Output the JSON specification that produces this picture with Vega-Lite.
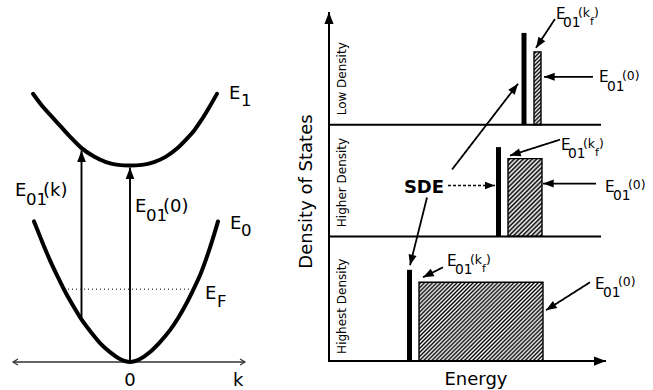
{
 "$schema": "https://vega.github.io/schema/vega-lite/v6.json",
 "width": 653, "height": 390,
 "autosize": {"type": "fit", "contains": "padding"},
 "padding": 0,
 "background": "white",
 "config": {"view": {"stroke": null}},
 "resolve": {"scale": {"size": "independent", "strokeWidth": "independent", "strokeDash": "independent", "color": "independent"}},
 "datasets": {
  "curves": [
   {"c":"E0","x":34,"y":222},{"c":"E0","x":42,"y":242},{"c":"E0","x":50,"y":261},{"c":"E0","x":58,"y":278},{"c":"E0","x":66,"y":294},{"c":"E0","x":74,"y":308},{"c":"E0","x":82,"y":321},{"c":"E0","x":91,"y":333},{"c":"E0","x":100,"y":344},{"c":"E0","x":110,"y":353},{"c":"E0","x":120,"y":360},{"c":"E0","x":130,"y":363},{"c":"E0","x":140,"y":360},{"c":"E0","x":150,"y":353},{"c":"E0","x":160,"y":343},{"c":"E0","x":170,"y":331},{"c":"E0","x":178,"y":319},{"c":"E0","x":186,"y":305},{"c":"E0","x":193,"y":291},{"c":"E0","x":200,"y":276},{"c":"E0","x":206,"y":260},{"c":"E0","x":212,"y":242},{"c":"E0","x":218,"y":222},
   {"c":"E1","x":33,"y":94},{"c":"E1","x":42,"y":106},{"c":"E1","x":50,"y":115},{"c":"E1","x":60,"y":126},{"c":"E1","x":70,"y":137},{"c":"E1","x":81,"y":148},{"c":"E1","x":94,"y":157},{"c":"E1","x":106,"y":162.5},{"c":"E1","x":118,"y":165.3},{"c":"E1","x":130,"y":166},{"c":"E1","x":142,"y":165.3},{"c":"E1","x":154,"y":162.5},{"c":"E1","x":166,"y":157},{"c":"E1","x":177,"y":149},{"c":"E1","x":186,"y":140},{"c":"E1","x":194,"y":131},{"c":"E1","x":201,"y":121},{"c":"E1","x":209,"y":108},{"c":"E1","x":217,"y":94}
  ],
  "bars": [
   {"panel":"low","sde":524,"sdeTop":33,"base":125,"x0":534,"x1":541,"top":52},
   {"panel":"higher","sde":498.5,"sdeTop":147.5,"base":237,"x0":508,"x1":542,"top":159},
   {"panel":"highest","sde":409.5,"sdeTop":270.5,"base":362,"x0":419,"x1":543,"top":283}
  ],
  "segs": [
   {"x":130,"y":363,"x2":13,"y2":363,"kind":"thin","head":"open"},
   {"x":130,"y":363,"x2":245,"y2":363,"kind":"thin","head":"open"},
   {"x":81.5,"y":322,"x2":81.5,"y2":151,"kind":"big","head":"filled"},
   {"x":130,"y":363,"x2":130,"y2":168,"kind":"big","head":"filled"},
   {"x":64,"y":290,"x2":196,"y2":290,"kind":"dotted","head":"none"},
   {"x":329,"y":363,"x2":329,"y2":12,"kind":"axis","head":"filled"},
   {"x":328,"y":362,"x2":606,"y2":362,"kind":"axis","head":"filled"},
   {"x":329,"y":125,"x2":601,"y2":125,"kind":"axis","head":"none"},
   {"x":329,"y":237,"x2":601,"y2":237,"kind":"axis","head":"none"},
   {"x":452,"y":170,"x2":518,"y2":84,"kind":"small","head":"filled"},
   {"x":427,"y":198,"x2":410,"y2":266,"kind":"small","head":"filled"},
   {"x":448,"y":186,"x2":495,"y2":186,"kind":"dashed","head":"filled"},
   {"x":555,"y":19,"x2":536,"y2":48,"kind":"small","head":"filled"},
   {"x":593,"y":77,"x2":544,"y2":77,"kind":"small","head":"filled"},
   {"x":560,"y":140,"x2":510,"y2":156,"kind":"small","head":"filled"},
   {"x":596,"y":184,"x2":543,"y2":184,"kind":"small","head":"filled"},
   {"x":443,"y":268,"x2":423,"y2":278,"kind":"small","head":"filled"},
   {"x":590,"y":283,"x2":546,"y2":311,"kind":"small","head":"filled"}
  ],
  "labels": [
   {"g":"a","s":"L","t":"E","x":15,"y":197},
   {"g":"a","s":"Ls","t":"01","x":26,"y":206},
   {"g":"a","s":"L","t":"(k)","x":43,"y":197},
   {"g":"a","s":"L","t":"E","x":135,"y":213},
   {"g":"a","s":"Ls","t":"01","x":146,"y":222},
   {"g":"a","s":"L","t":"(0)","x":163,"y":213},
   {"g":"a","s":"L","t":"E","x":229,"y":99},
   {"g":"a","s":"Ls","t":"1","x":241,"y":106},
   {"g":"a","s":"L","t":"E","x":230,"y":230},
   {"g":"a","s":"Ls","t":"0","x":241,"y":237},
   {"g":"a","s":"L","t":"E","x":205,"y":300},
   {"g":"a","s":"Ls","t":"F","x":217,"y":308},
   {"g":"a","s":"L","t":"k","x":233,"y":387},
   {"g":"a","s":"R","t":"E","x":556,"y":19},
   {"g":"a","s":"Rs","t":"01","x":563,"y":27},
   {"g":"a","s":"Rp","t":"(k","x":578,"y":17},
   {"g":"a","s":"Rf","t":"f","x":590,"y":25},
   {"g":"a","s":"Rp","t":")","x":594,"y":17},
   {"g":"a","s":"R","t":"E","x":599,"y":82},
   {"g":"a","s":"Rs","t":"01","x":607,"y":91},
   {"g":"a","s":"Rp","t":"(0)","x":622,"y":80},
   {"g":"a","s":"R","t":"E","x":561,"y":150},
   {"g":"a","s":"Rs","t":"01","x":568,"y":158},
   {"g":"a","s":"Rp","t":"(k","x":583,"y":148},
   {"g":"a","s":"Rf","t":"f","x":595,"y":156},
   {"g":"a","s":"Rp","t":")","x":599,"y":148},
   {"g":"a","s":"R","t":"E","x":605,"y":192},
   {"g":"a","s":"Rs","t":"01","x":613,"y":201},
   {"g":"a","s":"Rp","t":"(0)","x":628,"y":189},
   {"g":"a","s":"R","t":"E","x":447,"y":267},
   {"g":"a","s":"Rs","t":"01","x":455,"y":275},
   {"g":"a","s":"Rp","t":"(k","x":470,"y":265},
   {"g":"a","s":"Rf","t":"f","x":482,"y":273},
   {"g":"a","s":"Rp","t":")","x":486,"y":265},
   {"g":"a","s":"R","t":"E","x":595,"y":290},
   {"g":"a","s":"Rs","t":"01","x":603,"y":298},
   {"g":"a","s":"Rp","t":"(0)","x":618,"y":287},
   {"g":"c","s":"L","t":"0","x":130,"y":387},
   {"g":"c","s":"L","t":"Energy","x":476,"y":386},
   {"g":"b","s":"L","t":"SDE","x":424,"y":193},
   {"g":"r","s":"T","t":"Density of States","x":307,"y":192},
   {"g":"r","s":"D","t":"Low Density","x":342,"y":79},
   {"g":"r","s":"D","t":"Higher Density","x":342,"y":183},
   {"g":"r","s":"D","t":"Highest Density","x":342,"y":307}
  ]
 },
 "layer": [
  {
   "data": {"name": "bars"},
   "transform": [{"filter": "datum.panel === 'low'"}],
   "mark": {"type": "rect", "stroke": "#000", "strokeWidth": 1.4,
    "fill": {"gradient": "linear", "x1": 0, "y1": 0, "x2": 0.104, "y2": 1.086, "stops": [
     {"offset":0,"color":"#fff"},{"offset":0.025,"color":"#000"},{"offset":0.05,"color":"#fff"},{"offset":0.075,"color":"#000"},{"offset":0.1,"color":"#fff"},{"offset":0.125,"color":"#000"},{"offset":0.15,"color":"#fff"},{"offset":0.175,"color":"#000"},{"offset":0.2,"color":"#fff"},{"offset":0.225,"color":"#000"},{"offset":0.25,"color":"#fff"},{"offset":0.275,"color":"#000"},{"offset":0.3,"color":"#fff"},{"offset":0.325,"color":"#000"},{"offset":0.35,"color":"#fff"},{"offset":0.375,"color":"#000"},{"offset":0.4,"color":"#fff"},{"offset":0.425,"color":"#000"},{"offset":0.45,"color":"#fff"},{"offset":0.475,"color":"#000"},{"offset":0.5,"color":"#fff"},{"offset":0.525,"color":"#000"},{"offset":0.55,"color":"#fff"},{"offset":0.575,"color":"#000"},{"offset":0.6,"color":"#fff"},{"offset":0.625,"color":"#000"},{"offset":0.65,"color":"#fff"},{"offset":0.675,"color":"#000"},{"offset":0.7,"color":"#fff"},{"offset":0.725,"color":"#000"},{"offset":0.75,"color":"#fff"},{"offset":0.775,"color":"#000"},{"offset":0.8,"color":"#fff"},{"offset":0.825,"color":"#000"},{"offset":0.85,"color":"#fff"},{"offset":0.875,"color":"#000"},{"offset":0.9,"color":"#fff"},{"offset":0.925,"color":"#000"},{"offset":0.95,"color":"#fff"},{"offset":0.975,"color":"#000"},{"offset":1,"color":"#fff"}
    ]}},
   "encoding": {
    "x": {"field": "x0", "type": "quantitative", "scale": {"domain": [0, 653], "nice": false}, "axis": null},
    "x2": {"field": "x1"},
    "y": {"field": "top", "type": "quantitative", "scale": {"domain": [0, 390], "nice": false, "reverse": true}, "axis": null},
    "y2": {"field": "base"}
   }
  },
  {
   "data": {"name": "bars"},
   "transform": [{"filter": "datum.panel === 'higher'"}],
   "mark": {"type": "rect", "stroke": "#000", "strokeWidth": 1.4,
    "fill": {"gradient": "linear", "x1": 0, "y1": 0, "x2": 0.526, "y2": 1.207, "stops": [
     {"offset":0,"color":"#fff"},{"offset":0.02,"color":"#000"},{"offset":0.04,"color":"#fff"},{"offset":0.06,"color":"#000"},{"offset":0.08,"color":"#fff"},{"offset":0.1,"color":"#000"},{"offset":0.12,"color":"#fff"},{"offset":0.14,"color":"#000"},{"offset":0.16,"color":"#fff"},{"offset":0.18,"color":"#000"},{"offset":0.2,"color":"#fff"},{"offset":0.22,"color":"#000"},{"offset":0.24,"color":"#fff"},{"offset":0.26,"color":"#000"},{"offset":0.28,"color":"#fff"},{"offset":0.3,"color":"#000"},{"offset":0.32,"color":"#fff"},{"offset":0.34,"color":"#000"},{"offset":0.36,"color":"#fff"},{"offset":0.38,"color":"#000"},{"offset":0.4,"color":"#fff"},{"offset":0.42,"color":"#000"},{"offset":0.44,"color":"#fff"},{"offset":0.46,"color":"#000"},{"offset":0.48,"color":"#fff"},{"offset":0.5,"color":"#000"},{"offset":0.52,"color":"#fff"},{"offset":0.54,"color":"#000"},{"offset":0.56,"color":"#fff"},{"offset":0.58,"color":"#000"},{"offset":0.6,"color":"#fff"},{"offset":0.62,"color":"#000"},{"offset":0.64,"color":"#fff"},{"offset":0.66,"color":"#000"},{"offset":0.68,"color":"#fff"},{"offset":0.7,"color":"#000"},{"offset":0.72,"color":"#fff"},{"offset":0.74,"color":"#000"},{"offset":0.76,"color":"#fff"},{"offset":0.78,"color":"#000"},{"offset":0.8,"color":"#fff"},{"offset":0.82,"color":"#000"},{"offset":0.84,"color":"#fff"},{"offset":0.86,"color":"#000"},{"offset":0.88,"color":"#fff"},{"offset":0.9,"color":"#000"},{"offset":0.92,"color":"#fff"},{"offset":0.94,"color":"#000"},{"offset":0.96,"color":"#fff"},{"offset":0.98,"color":"#000"},{"offset":1,"color":"#fff"}
    ]}},
   "encoding": {
    "x": {"field": "x0", "type": "quantitative", "scale": {"domain": [0, 653], "nice": false}, "axis": null},
    "x2": {"field": "x1"},
    "y": {"field": "top", "type": "quantitative", "scale": {"domain": [0, 390], "nice": false, "reverse": true}, "axis": null},
    "y2": {"field": "base"}
   }
  },
  {
   "data": {"name": "bars"},
   "transform": [{"filter": "datum.panel === 'highest'"}],
   "mark": {"type": "rect", "stroke": "#000", "strokeWidth": 1.4,
    "fill": {"gradient": "linear", "x1": 0, "y1": 0, "x2": 1.164, "y2": 0.742, "stops": [
     {"offset":0,"color":"#fff"},{"offset":0.01,"color":"#000"},{"offset":0.02,"color":"#fff"},{"offset":0.03,"color":"#000"},{"offset":0.04,"color":"#fff"},{"offset":0.05,"color":"#000"},{"offset":0.06,"color":"#fff"},{"offset":0.07,"color":"#000"},{"offset":0.08,"color":"#fff"},{"offset":0.09,"color":"#000"},{"offset":0.1,"color":"#fff"},{"offset":0.11,"color":"#000"},{"offset":0.12,"color":"#fff"},{"offset":0.13,"color":"#000"},{"offset":0.14,"color":"#fff"},{"offset":0.15,"color":"#000"},{"offset":0.16,"color":"#fff"},{"offset":0.17,"color":"#000"},{"offset":0.18,"color":"#fff"},{"offset":0.19,"color":"#000"},{"offset":0.2,"color":"#fff"},{"offset":0.21,"color":"#000"},{"offset":0.22,"color":"#fff"},{"offset":0.23,"color":"#000"},{"offset":0.24,"color":"#fff"},{"offset":0.25,"color":"#000"},{"offset":0.26,"color":"#fff"},{"offset":0.27,"color":"#000"},{"offset":0.28,"color":"#fff"},{"offset":0.29,"color":"#000"},{"offset":0.3,"color":"#fff"},{"offset":0.31,"color":"#000"},{"offset":0.32,"color":"#fff"},{"offset":0.33,"color":"#000"},{"offset":0.34,"color":"#fff"},{"offset":0.35,"color":"#000"},{"offset":0.36,"color":"#fff"},{"offset":0.37,"color":"#000"},{"offset":0.38,"color":"#fff"},{"offset":0.39,"color":"#000"},{"offset":0.4,"color":"#fff"},{"offset":0.41,"color":"#000"},{"offset":0.42,"color":"#fff"},{"offset":0.43,"color":"#000"},{"offset":0.44,"color":"#fff"},{"offset":0.45,"color":"#000"},{"offset":0.46,"color":"#fff"},{"offset":0.47,"color":"#000"},{"offset":0.48,"color":"#fff"},{"offset":0.49,"color":"#000"},{"offset":0.5,"color":"#fff"},{"offset":0.51,"color":"#000"},{"offset":0.52,"color":"#fff"},{"offset":0.53,"color":"#000"},{"offset":0.54,"color":"#fff"},{"offset":0.55,"color":"#000"},{"offset":0.56,"color":"#fff"},{"offset":0.57,"color":"#000"},{"offset":0.58,"color":"#fff"},{"offset":0.59,"color":"#000"},{"offset":0.6,"color":"#fff"},{"offset":0.61,"color":"#000"},{"offset":0.62,"color":"#fff"},{"offset":0.63,"color":"#000"},{"offset":0.64,"color":"#fff"},{"offset":0.65,"color":"#000"},{"offset":0.66,"color":"#fff"},{"offset":0.67,"color":"#000"},{"offset":0.68,"color":"#fff"},{"offset":0.69,"color":"#000"},{"offset":0.7,"color":"#fff"},{"offset":0.71,"color":"#000"},{"offset":0.72,"color":"#fff"},{"offset":0.73,"color":"#000"},{"offset":0.74,"color":"#fff"},{"offset":0.75,"color":"#000"},{"offset":0.76,"color":"#fff"},{"offset":0.77,"color":"#000"},{"offset":0.78,"color":"#fff"},{"offset":0.79,"color":"#000"},{"offset":0.8,"color":"#fff"},{"offset":0.81,"color":"#000"},{"offset":0.82,"color":"#fff"},{"offset":0.83,"color":"#000"},{"offset":0.84,"color":"#fff"},{"offset":0.85,"color":"#000"},{"offset":0.86,"color":"#fff"},{"offset":0.87,"color":"#000"},{"offset":0.88,"color":"#fff"},{"offset":0.89,"color":"#000"},{"offset":0.9,"color":"#fff"},{"offset":0.91,"color":"#000"},{"offset":0.92,"color":"#fff"},{"offset":0.93,"color":"#000"},{"offset":0.94,"color":"#fff"},{"offset":0.95,"color":"#000"},{"offset":0.96,"color":"#fff"},{"offset":0.97,"color":"#000"},{"offset":0.98,"color":"#fff"},{"offset":0.99,"color":"#000"},{"offset":1,"color":"#fff"}
    ]}},
   "encoding": {
    "x": {"field": "x0", "type": "quantitative", "scale": {"domain": [0, 653], "nice": false}, "axis": null},
    "x2": {"field": "x1"},
    "y": {"field": "top", "type": "quantitative", "scale": {"domain": [0, 390], "nice": false, "reverse": true}, "axis": null},
    "y2": {"field": "base"}
   }
  },
  {
   "data": {"name": "bars"},
   "mark": {"type": "rule", "color": "#000", "strokeWidth": 5},
   "encoding": {
    "x": {"field": "sde", "type": "quantitative", "scale": {"domain": [0, 653], "nice": false}, "axis": null},
    "y": {"field": "sdeTop", "type": "quantitative", "scale": {"domain": [0, 390], "nice": false, "reverse": true}, "axis": null},
    "y2": {"field": "base"}
   }
  },
  {
   "data": {"name": "segs"},
   "mark": {"type": "rule"},
   "encoding": {
    "x": {"field": "x", "type": "quantitative", "scale": {"domain": [0, 653], "nice": false}, "axis": null},
    "y": {"field": "y", "type": "quantitative", "scale": {"domain": [0, 390], "nice": false, "reverse": true}, "axis": null},
    "x2": {"field": "x2"},
    "y2": {"field": "y2"},
    "strokeWidth": {"field": "kind", "type": "nominal", "scale": {"domain": ["axis","big","small","dashed","dotted","thin"], "range": [2, 1.5, 1, 1, 1, 1]}, "legend": null},
    "strokeDash": {"field": "kind", "type": "nominal", "scale": {"domain": ["axis","big","small","dashed","dotted","thin"], "range": [[1,0],[1,0],[1,0],[3,2],[1,3],[1,0]]}, "legend": null},
    "color": {"field": "kind", "type": "nominal", "scale": {"domain": ["axis","big","small","dashed","dotted","thin"], "range": ["#000","#000","#000","#000","#555","#333"]}, "legend": null}
   }
  },
  {
   "data": {"name": "curves"},
   "mark": {"type": "line", "color": "#000", "strokeWidth": 4, "interpolate": "monotone", "strokeCap": "round"},
   "encoding": {
    "x": {"field": "x", "type": "quantitative", "scale": {"domain": [0, 653], "nice": false}, "axis": null},
    "y": {"field": "y", "type": "quantitative", "scale": {"domain": [0, 390], "nice": false, "reverse": true}, "axis": null},
    "detail": {"field": "c", "type": "nominal"}
   }
  },
  {
   "data": {"name": "segs"},
   "transform": [
    {"filter": "datum.head === 'filled'"},
    {"calculate": "atan2(datum.x2 - datum.x, datum.y - datum.y2) * 180 / PI", "as": "ang"}
   ],
   "mark": {"type": "point", "shape": "M0,0L-0.38,1L0.38,1Z", "filled": true, "color": "#000", "opacity": 1, "strokeWidth": 0},
   "encoding": {
    "x": {"field": "x2", "type": "quantitative", "scale": {"domain": [0, 653], "nice": false}, "axis": null},
    "y": {"field": "y2", "type": "quantitative", "scale": {"domain": [0, 390], "nice": false, "reverse": true}, "axis": null},
    "angle": {"field": "ang", "type": "quantitative", "scale": null},
    "size": {"field": "kind", "type": "ordinal", "scale": {"domain": ["axis","big","small","dashed"], "range": [576, 400, 300, 300]}, "legend": null}
   }
  },
  {
   "data": {"name": "segs"},
   "transform": [
    {"filter": "datum.head === 'open'"},
    {"calculate": "atan2(datum.x2 - datum.x, datum.y - datum.y2) * 180 / PI", "as": "ang"}
   ],
   "mark": {"type": "point", "shape": "M-0.6,1L0,0L0.6,1", "filled": false, "color": "#333", "opacity": 1, "strokeWidth": 1.2, "size": 100},
   "encoding": {
    "x": {"field": "x2", "type": "quantitative", "scale": {"domain": [0, 653], "nice": false}, "axis": null},
    "y": {"field": "y2", "type": "quantitative", "scale": {"domain": [0, 390], "nice": false, "reverse": true}, "axis": null},
    "angle": {"field": "ang", "type": "quantitative", "scale": null}
   }
  },
  {
   "data": {"name": "labels"},
   "transform": [{"filter": "datum.g === 'a'"}],
   "mark": {"type": "text", "font": "DejaVu Sans", "align": "left", "baseline": "alphabetic", "color": "#000"},
   "encoding": {
    "x": {"field": "x", "type": "quantitative", "scale": {"domain": [0, 653], "nice": false}, "axis": null},
    "y": {"field": "y", "type": "quantitative", "scale": {"domain": [0, 390], "nice": false, "reverse": true}, "axis": null},
    "text": {"field": "t", "type": "nominal"},
    "size": {"field": "s", "type": "nominal", "scale": {"domain": ["L","Ls","R","Rs","Rp","Rf"], "range": [18, 11, 15, 11, 12, 9]}, "legend": null}
   }
  },
  {
   "data": {"name": "labels"},
   "transform": [{"filter": "datum.g === 'c'"}],
   "mark": {"type": "text", "font": "DejaVu Sans", "align": "center", "baseline": "alphabetic", "color": "#000", "fontSize": 18},
   "encoding": {
    "x": {"field": "x", "type": "quantitative", "scale": {"domain": [0, 653], "nice": false}, "axis": null},
    "y": {"field": "y", "type": "quantitative", "scale": {"domain": [0, 390], "nice": false, "reverse": true}, "axis": null},
    "text": {"field": "t", "type": "nominal"}
   }
  },
  {
   "data": {"name": "labels"},
   "transform": [{"filter": "datum.g === 'b'"}],
   "mark": {"type": "text", "font": "DejaVu Sans", "fontWeight": "bold", "align": "center", "baseline": "alphabetic", "color": "#000", "fontSize": 18},
   "encoding": {
    "x": {"field": "x", "type": "quantitative", "scale": {"domain": [0, 653], "nice": false}, "axis": null},
    "y": {"field": "y", "type": "quantitative", "scale": {"domain": [0, 390], "nice": false, "reverse": true}, "axis": null},
    "text": {"field": "t", "type": "nominal"}
   }
  },
  {
   "data": {"name": "labels"},
   "transform": [{"filter": "datum.g === 'r'"}],
   "mark": {"type": "text", "font": "DejaVu Sans", "align": "center", "baseline": "middle", "color": "#000", "angle": 270},
   "encoding": {
    "x": {"field": "x", "type": "quantitative", "scale": {"domain": [0, 653], "nice": false}, "axis": null},
    "y": {"field": "y", "type": "quantitative", "scale": {"domain": [0, 390], "nice": false, "reverse": true}, "axis": null},
    "text": {"field": "t", "type": "nominal"},
    "size": {"field": "s", "type": "nominal", "scale": {"domain": ["T","D"], "range": [18, 12]}, "legend": null}
   }
  }
 ]
}
